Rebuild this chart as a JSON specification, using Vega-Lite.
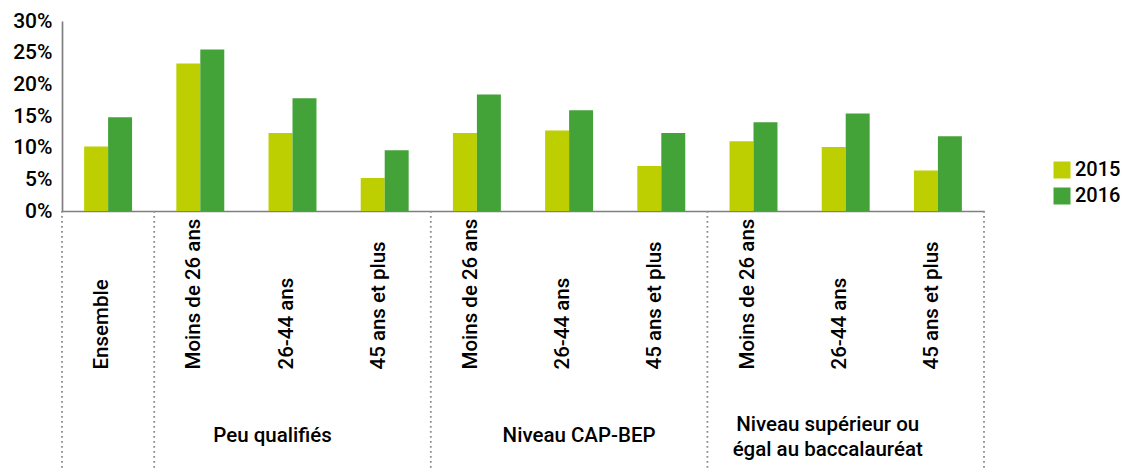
{
  "$schema": "https://vega.github.io/schema/vega-lite/v6.json",
  "width": 922,
  "height": 190,
  "autosize": "none",
  "padding": {"left": 62, "top": 21, "right": 138, "bottom": 257},
  "config": {
    "view": {"stroke": null},
    "font": "Roboto",
    "axisY": {"labelOverlap": false, "labelFontSize": 21, "labelFontWeight": 500, "labelColor": "#000000", "labelPadding": 10, "ticks": false, "grid": false, "domainColor": "#7f7f7f", "domainWidth": 1.7, "title": null},
    "axisX": {"labelOverlap": false, "ticks": false, "grid": false, "domainColor": "#7f7f7f", "domainWidth": 1.7, "title": null}
  },
  "datasets": {
    "bars": [
      {"cat": "a:Ensemble", "year": "2015", "value": 10.2},
      {"cat": "a:Ensemble", "year": "2016", "value": 14.8},
      {"cat": "b:Moins de 26 ans", "year": "2015", "value": 23.3},
      {"cat": "b:Moins de 26 ans", "year": "2016", "value": 25.5},
      {"cat": "c:26-44 ans", "year": "2015", "value": 12.3},
      {"cat": "c:26-44 ans", "year": "2016", "value": 17.8},
      {"cat": "d:45 ans et plus", "year": "2015", "value": 5.2},
      {"cat": "d:45 ans et plus", "year": "2016", "value": 9.6},
      {"cat": "e:Moins de 26 ans", "year": "2015", "value": 12.3},
      {"cat": "e:Moins de 26 ans", "year": "2016", "value": 18.4},
      {"cat": "f:26-44 ans", "year": "2015", "value": 12.7},
      {"cat": "f:26-44 ans", "year": "2016", "value": 15.9},
      {"cat": "g:45 ans et plus", "year": "2015", "value": 7.1},
      {"cat": "g:45 ans et plus", "year": "2016", "value": 12.3},
      {"cat": "h:Moins de 26 ans", "year": "2015", "value": 11.0},
      {"cat": "h:Moins de 26 ans", "year": "2016", "value": 14.0},
      {"cat": "i:26-44 ans", "year": "2015", "value": 10.1},
      {"cat": "i:26-44 ans", "year": "2016", "value": 15.4},
      {"cat": "j:45 ans et plus", "year": "2015", "value": 6.4},
      {"cat": "j:45 ans et plus", "year": "2016", "value": 11.8}
    ]
  },
  "layer": [
    {
      "data": {"name": "bars"},
      "mark": {"type": "bar"},
      "encoding": {
        "x": {
          "field": "cat", "type": "nominal",
          "scale": {"paddingInner": 0.48, "paddingOuter": 0.24},
          "axis": {
            "labelExpr": "substring(datum.value, 2)",
            "labelAngle": -90,
            "labelAlign": "left",
            "labelBaseline": "alphabetic",
            "labelPadding": 158,
            "labelFontSize": 20.5,
            "labelFontWeight": 500,
            "labelColor": "#000000"
          }
        },
        "xOffset": {"field": "year", "type": "nominal", "scale": {"paddingInner": 0, "paddingOuter": 0}},
        "y": {
          "field": "value", "type": "quantitative",
          "scale": {"domain": [0, 30], "nice": false},
          "axis": {"values": [0, 5, 10, 15, 20, 25, 30], "labelExpr": "datum.value + '%'", "labelOverlap": false}
        },
        "color": {
          "field": "year", "type": "nominal",
          "scale": {"domain": ["2015", "2016"], "range": ["#bdcf00", "#43a338"]},
          "legend": {
            "title": null,
            "orient": "none",
            "legendX": 990,
            "legendY": 139,
            "symbolType": "square",
            "symbolSize": 289,
            "symbolStrokeWidth": 0,
            "labelFontSize": 20,
            "labelFontWeight": 500,
            "labelColor": "#000000",
            "labelOffset": 3,
            "rowPadding": 6,
            "padding": 0
          }
        }
      }
    },
    {
      "data": {"values": [{"cat": "a:Ensemble"}, {"cat": "b:Moins de 26 ans"}, {"cat": "e:Moins de 26 ans"}, {"cat": "h:Moins de 26 ans"}]},
      "mark": {"type": "rule", "color": "#8c8c8c", "strokeWidth": 1.8, "strokeDash": [1.8, 3.2]},
      "encoding": {
        "x": {"field": "cat", "type": "nominal", "bandPosition": -0.4615},
        "y": {"datum": 0, "type": "quantitative", "axis": {"values": [0, 5, 10, 15, 20, 25, 30], "labelExpr": "datum.value + '%'", "labelOverlap": false}},
        "y2": {"datum": -40.6}
      }
    },
    {
      "data": {"values": [{"cat": "j:45 ans et plus"}]},
      "mark": {"type": "rule", "color": "#8c8c8c", "strokeWidth": 1.8, "strokeDash": [1.8, 3.2]},
      "encoding": {
        "x": {"field": "cat", "type": "nominal", "bandPosition": 1.4615},
        "y": {"datum": 0, "type": "quantitative", "axis": {"values": [0, 5, 10, 15, 20, 25, 30], "labelExpr": "datum.value + '%'", "labelOverlap": false}},
        "y2": {"datum": -40.6}
      }
    },
    {
      "data": {"values": [{"cat": "c:26-44 ans", "label": "Peu qualifiés"}]},
      "mark": {"type": "text", "fontSize": 20.5, "fontWeight": 500, "color": "#000000", "dx": -20, "baseline": "middle"},
      "encoding": {
        "x": {"field": "cat", "type": "nominal"},
        "y": {"datum": -35.6, "type": "quantitative", "axis": {"values": [0, 5, 10, 15, 20, 25, 30], "labelExpr": "datum.value + '%'", "labelOverlap": false}},
        "text": {"field": "label"}
      }
    },
    {
      "data": {"values": [{"cat": "f:26-44 ans", "label": "Niveau CAP-BEP"}]},
      "mark": {"type": "text", "fontSize": 20.5, "fontWeight": 500, "color": "#000000", "dx": 10, "baseline": "middle"},
      "encoding": {
        "x": {"field": "cat", "type": "nominal"},
        "y": {"datum": -35.6, "type": "quantitative", "axis": {"values": [0, 5, 10, 15, 20, 25, 30], "labelExpr": "datum.value + '%'", "labelOverlap": false}},
        "text": {"field": "label"}
      }
    },
    {
      "data": {"values": [{"cat": "i:26-44 ans", "label": "Niveau supérieur ou\négal au baccalauréat"}]},
      "mark": {"type": "text", "fontSize": 20.5, "fontWeight": 500, "color": "#000000", "dx": -18, "baseline": "middle", "lineBreak": "\n", "lineHeight": 25},
      "encoding": {
        "x": {"field": "cat", "type": "nominal"},
        "y": {"datum": -33.8, "type": "quantitative", "axis": {"values": [0, 5, 10, 15, 20, 25, 30], "labelExpr": "datum.value + '%'", "labelOverlap": false}},
        "text": {"field": "label"}
      }
    }
  ]
}
